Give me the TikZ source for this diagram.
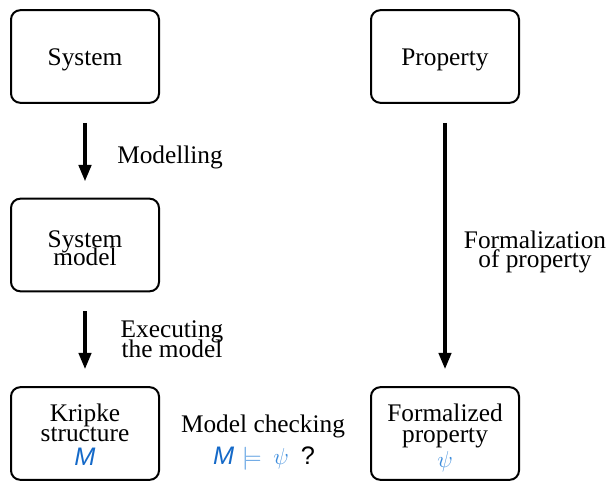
\documentclass[tikz,border=0pt]{standalone}
\usepackage{fontspec}
\newfontfamily\tms{Liberation Serif}
\newfontfamily\hvsans{Liberation Sans}
\usetikzlibrary{arrows.meta}
\definecolor{mblue}{RGB}{20,105,200}
\definecolor{pblue}{RGB}{60,140,220}
\newcommand{\fs}[1]{\tms\fontsize{19}{#1}\selectfont\lineskiplimit=-100pt\relax}
\begin{document}
\begin{tikzpicture}[x=0.75pt,y=-0.75pt,
  box/.style={draw=black,line width=1.5pt,rounded corners=7pt,minimum width=111pt,minimum height=69.5pt,inner sep=0pt},
  arr/.style={line width=3.4pt,-{Triangle[length=12.5pt,width=9pt]}},
  lbl/.style={align=center,inner sep=0pt,anchor=base}]
\useasboundingbox (0,0) rectangle (610,481);
% boxes
\node[box] (sys) at (85,56.5) {};
\node[box] (prop) at (445,56.5) {};
\node[box] (sm) at (85,245) {};
\node[box] (kr) at (85,433.5) {};
\node[box] (fp) at (445,433.5) {};
% box texts
\node[lbl,font=\fs{14}] (syst) at (85,66) {System};
\node[lbl,font=\fs{14}] (propt) at (445,66) {Property};
\node[lbl,font=\fs{13.5}] (smt) at (85,265) {System\\model};
\node[lbl,font=\fs{15}] (krt) at (85,441) {Kripke\\structure};
\node[lbl] (krm) at (85,465) {\fontsize{19}{20}\hvsans\itshape\color{mblue}M};
\node[lbl,font=\fs{15.75}] (fpt) at (445,442) {Formalized\\property};
\node[lbl] (fpm) at (445,467) {\fontsize{19}{20}\selectfont\color{pblue}$\psi$};
% arrows
\draw[arr,shorten <=14.25pt,shorten >=12pt] (sys.south) -- (sm.north);
\draw[arr,shorten <=14.25pt,shorten >=12.5pt] (sm.south) -- (kr.north);
\draw[arr,shorten <=14.25pt,shorten >=12.5pt] (prop.south) -- (fp.north);
% labels
\node[lbl,font=\fs{14},anchor=base west] (l1) at (117,164) {Modelling};
\node[lbl,font=\fs{15}] (l2) at (172,357) {Executing\\the model};
\node[lbl,font=\fs{14.25}] (l3) at (535,267) {Formalization\\of property};
\node[lbl,font=\fs{14}] (mc) at (263,432) {Model checking};
\node[lbl] (mq) at (264,464) {\fontsize{19}{20}\selectfont{\hvsans\itshape\color{mblue}M}\hspace{6pt}{\color{pblue}$\models$}\hspace{9pt}{\color{pblue}$\psi$}\hspace{9pt}{\hvsans ?}};
\end{tikzpicture}
\end{document}
